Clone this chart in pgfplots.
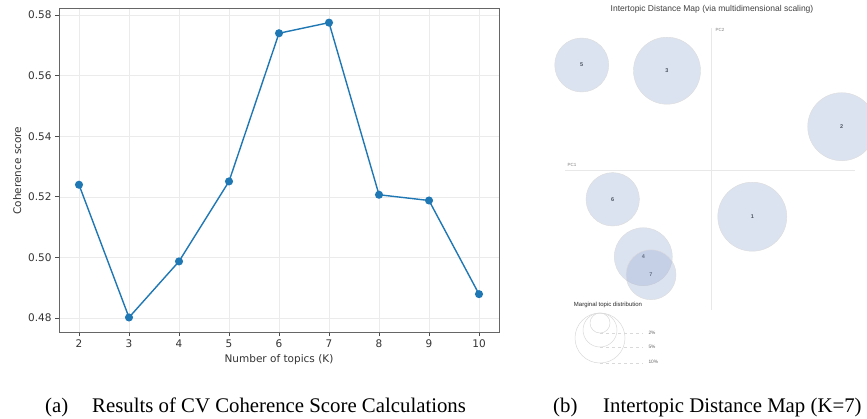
\documentclass[border=0pt]{standalone}
\usepackage{fontspec}
\setmainfont{Liberation Serif}
\newfontfamily\dejavu{DejaVu Sans}
\newfontfamily\lsans{Liberation Sans}
\usepackage{pgfplots}
\pgfplotsset{compat=1.18}
\definecolor{mplblue}{HTML}{1F77B4}
\definecolor{topicfill}{RGB}{150,170,210}
\pgfplotsset{
  topic/.style={only marks, mark=*, mark size=#1,
    mark options={fill=topicfill, fill opacity=0.33, draw=black!14, line width=0.4pt}},
  legcirc/.style={only marks, mark=o, mark size=#1,
    mark options={draw=black!15, line width=0.5pt}},
}
\begin{document}
\begin{tikzpicture}[x=1pt,y=1pt]
\useasboundingbox (0,0) rectangle (867,418);
% ---------------- (a) coherence plot ----------------
\begin{axis}[
  at={(59pt,86pt)}, anchor=south west,
  scale only axis, width=440pt, height=323pt,
  xmin=1.6, xmax=10.4, ymin=0.4754, ymax=0.5820,
  xtick={2,3,4,5,6,7,8,9,10},
  ytick={0.48,0.50,0.52,0.54,0.56,0.58},
  yticklabel style={/pgf/number format/.cd, fixed, fixed zerofill, precision=2},
  /pgf/number format/assume math mode=true,
  ticklabel style={font=\dejavu\fontsize{10.5}{12}\selectfont, text=black!80},
  tick align=outside, major tick length=4pt,
  tick style={black!70, line width=0.8pt},
  xtick pos=left, ytick pos=left,
  grid=major, major grid style={black!8, line width=0.6pt},
  axis line style={black!60, line width=1pt},
  xlabel={Number of topics (K)}, ylabel={Coherence score},
  label style={font=\dejavu\fontsize{10.5}{12}\selectfont, text=black!80},
]
\addplot[mplblue, line width=1.4pt, mark=*, mark size=3.3pt, mark options={fill=mplblue}]
coordinates {(2,0.5240) (3,0.4802) (4,0.4987) (5,0.5251) (6,0.5740) (7,0.5775) (8,0.5207) (9,0.5188) (10,0.4879)};
\end{axis}
% ---------------- (b) intertopic distance map ----------------
\begin{axis}[
  at={(540pt,38pt)}, anchor=south west,
  scale only axis, width=327pt, height=380pt,
  xmin=540, xmax=867, ymin=0, ymax=380, y dir=reverse,
  hide axis, clip=false,
]
\addplot[black!9, line width=0.6pt] coordinates {(711,28) (711,310)};
\addplot[black!9, line width=0.6pt] coordinates {(565,170) (855,170)};
\addplot[topic=27pt]   coordinates {(581.7,65.0)};
\addplot[topic=33.5pt] coordinates {(667.0,70.7)};
\addplot[topic=34pt]   coordinates {(841.7,126.7)};
\addplot[topic=26.7pt] coordinates {(612.7,199.3)};
\addplot[topic=34.5pt] coordinates {(752.3,216.7)};
\addplot[topic=29pt]   coordinates {(643.3,256.7)};
\addplot[topic=25pt]   coordinates {(651.0,274.7)};
% legend circles
\addplot[legcirc=10pt] coordinates {(600,323)};
\addplot[legcirc=17pt] coordinates {(600,330)};
\addplot[legcirc=25pt] coordinates {(600,338)};
\addplot[black!15, dashed, line width=0.4pt] coordinates {(600,333) (643,333)};
\addplot[black!15, dashed, line width=0.4pt] coordinates {(600,347) (643,347)};
\addplot[black!15, dashed, line width=0.4pt] coordinates {(600,363) (643,363)};
\begin{scope}[font=\lsans\bfseries\fontsize{5.5}{6}\selectfont, text=black!85]
\node at (axis cs:752.3,216.7) {1};
\node at (axis cs:841.7,126.7) {2};
\node at (axis cs:667.0,70.7) {3};
\node at (axis cs:643.3,256.7) {4};
\node at (axis cs:581.7,65.0) {5};
\node at (axis cs:612.7,199.3) {6};
\node at (axis cs:651.0,274.7) {7};
\end{scope}
\node[font=\lsans\fontsize{8.5}{10}\selectfont, text=black!75] at (axis cs:712,9) {Intertopic Distance Map (via multidimensional scaling)};
\node[font=\lsans\fontsize{4.5}{5}\selectfont, text=black!50] at (axis cs:720,30) {PC2};
\node[font=\lsans\fontsize{4.5}{5}\selectfont, text=black!50] at (axis cs:572,165) {PC1};
\node[font=\lsans\fontsize{6}{7}\selectfont, text=black!85] at (axis cs:608,305) {Marginal topic distribution};
\begin{scope}[font=\lsans\fontsize{4.8}{5}\selectfont, text=black!60]
\node[anchor=west] at (axis cs:645,333) {2\%};
\node[anchor=west] at (axis cs:645,347) {5\%};
\node[anchor=west] at (axis cs:645,362) {10\%};
\end{scope}
\end{axis}
% ---------------- captions ----------------
\begin{scope}[font=\fontsize{20.8}{24}\selectfont]
\node[anchor=base west, inner sep=0pt] at (45,6) {(a)};
\node[anchor=base west, inner sep=0pt] at (92,6) {Results of CV Coherence Score Calculations};
\node[anchor=base west, inner sep=0pt] at (553,6) {(b)};
\node[anchor=base west, inner sep=0pt] at (603,6) {Intertopic Distance Map (K=7)};
\end{scope}
\end{tikzpicture}
\end{document}
